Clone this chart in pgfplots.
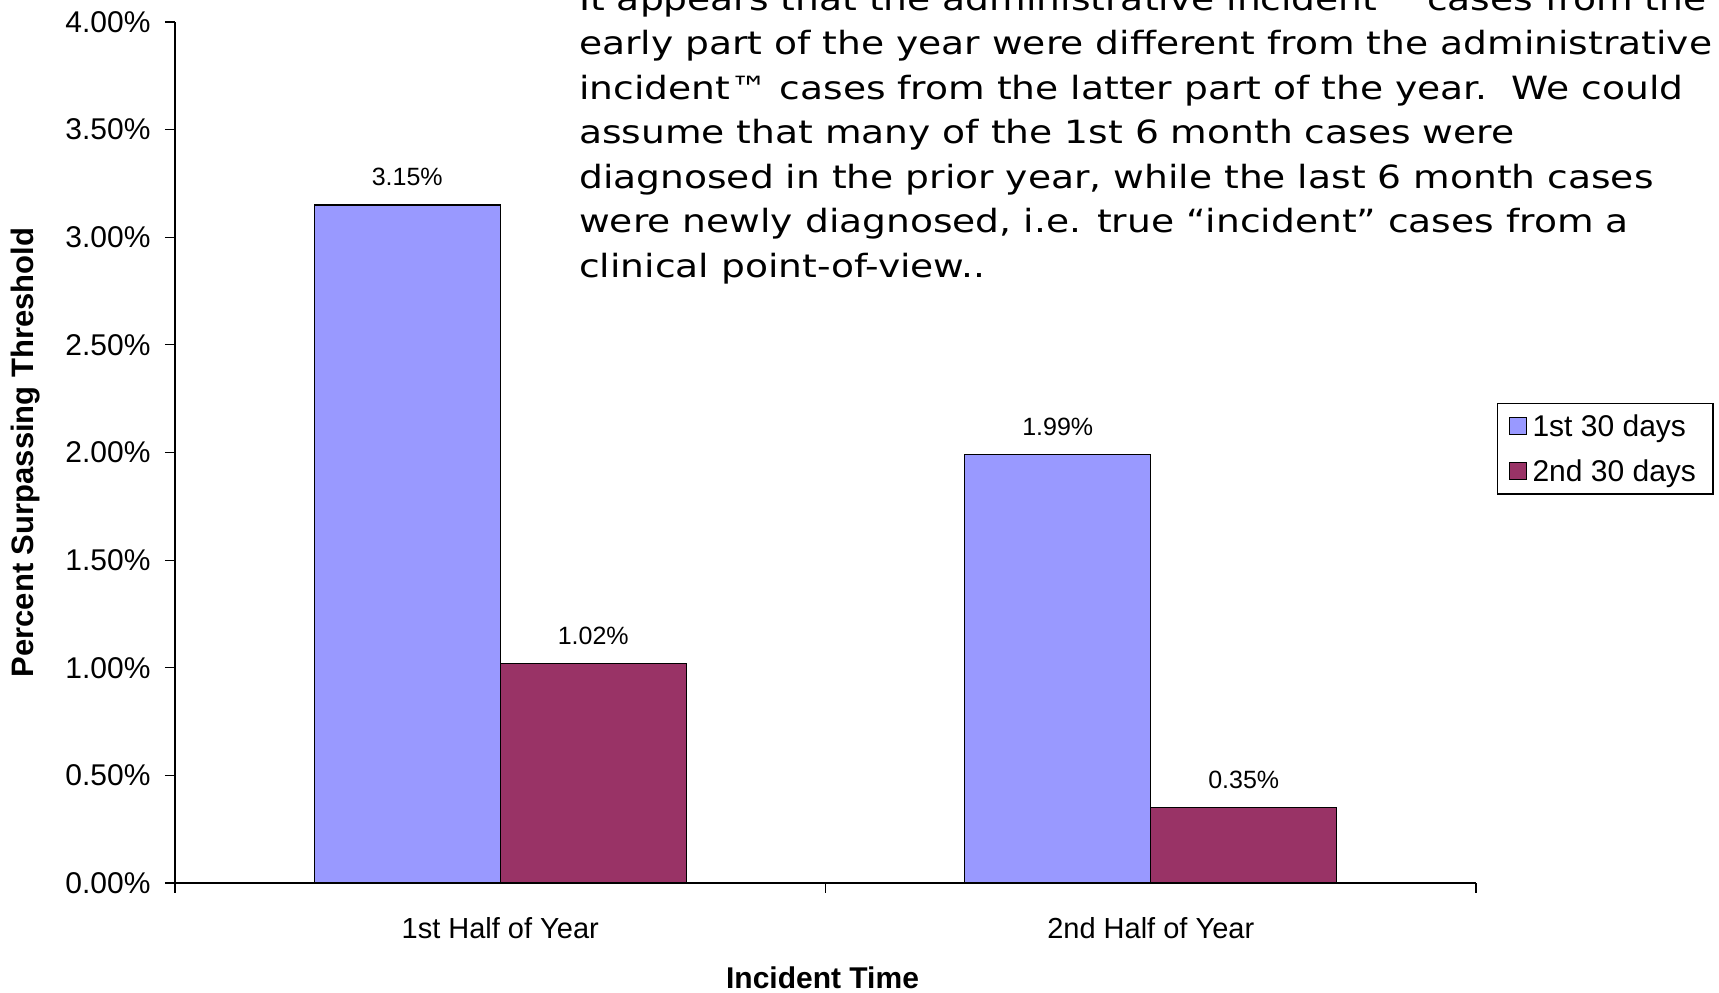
\documentclass[border=0pt]{standalone}
\usepackage{pgfplots}
\pgfplotsset{compat=1.18}
\usepackage{graphicx}
\usepackage{fontspec}
\setmainfont{Liberation Sans}
\newfontfamily\verdana{DejaVu Sans}
\definecolor{barA}{HTML}{9999FF}
\definecolor{barB}{HTML}{993366}
\newcommand\pl[1]{\scalebox{1.175}[1]{\verdana\fontsize{32}{38}\selectfont #1}}
\begin{document}
\begin{tikzpicture}[x=1pt,y=1pt]
\useasboundingbox (0,0) rectangle (1719,993);
\clip (0,0) rectangle (1719,993);
\begin{axis}[
  at={(175pt,110pt)}, anchor=south west,
  scale only axis, width=1301pt, height=861pt,
  xmin=-0.5, xmax=1.5, ymin=0, ymax=4,
  axis x line*=bottom, axis y line*=left,
  axis line style={black, line width=1.3pt, -},
  ybar,
  xtick={0,1}, xticklabels={1st Half of Year, 2nd Half of Year},
  minor xtick={-0.5,0.5,1.5},
  major x tick style={draw=none},
  minor x tick style={black, line width=1.1pt},
  ytick={0,0.5,1,1.5,2,2.5,3,3.5,4},
  major y tick style={black, line width=1.1pt},
  tick align=outside, major tick length=10pt, minor tick length=10pt,
  /pgf/number format/assume math mode=true,
  yticklabel={\pgfmathprintnumber[fixed,fixed zerofill,precision=2]{\tick}\%},
  yticklabel style={font=\fontsize{30}{35}\selectfont, xshift=-11pt},
  xticklabel style={font=\fontsize{29}{34}\selectfont, anchor=base, yshift=-45pt},
  xlabel={Incident Time},
  xlabel style={at={(axis description cs:0.4977,-0.1231)}, anchor=base, font=\bfseries\fontsize{30}{36}\selectfont},
  ylabel={Percent Surpassing Threshold},
  ylabel style={at={(axis description cs:-0.1091,0.5)}, anchor=base, font=\bfseries\fontsize{31}{36}\selectfont},
  nodes near coords={\pgfmathprintnumber[fixed,fixed zerofill,precision=2]{\pgfplotspointmeta}\%},
  every node near coord/.append style={font=\fontsize{25}{29}\selectfont, text=black, yshift=15pt},
  legend style={at={(axis description cs:1.0161,0.5575)}, anchor=north west, draw=black, line width=1.2pt,
    font=\fontsize{30}{35}\selectfont, inner xsep=11pt, inner ysep=9pt, row sep=18pt,
    nodes={inner xsep=6pt, inner ysep=2pt}},
  legend cell align=left,
  legend image code/.code={\draw[#1, line width=1pt] (0pt,-8.5pt) rectangle (17pt,8.5pt);},
]
\addplot[fill=barA, draw=black, line width=1.2pt, bar width=0.286, bar shift=-0.143] coordinates {(0,3.15) (1,1.99)};
\addplot[fill=barB, draw=black, line width=1.2pt, bar width=0.286, bar shift=0.143] coordinates {(0,1.02) (1,0.35)};
\legend{1st 30 days, 2nd 30 days}
\end{axis}
\node[anchor=base west, inner sep=0pt] at (579,982.5) {\pl{It appears that the administrative incident™ cases from the}};
\node[anchor=base west, inner sep=0pt] at (579,938) {\pl{early part of the year were different from the administrative}};
\node[anchor=base west, inner sep=0pt] at (579,893.5) {\pl{incident™ cases from the latter part of the year.\ \ We could}};
\node[anchor=base west, inner sep=0pt] at (579,849) {\pl{assume that many of the 1st 6 month cases were}};
\node[anchor=base west, inner sep=0pt] at (579,804.5) {\pl{diagnosed in the prior year, while the last 6 month cases}};
\node[anchor=base west, inner sep=0pt] at (579,760) {\pl{were newly diagnosed, i.e. true “incident” cases from a}};
\node[anchor=base west, inner sep=0pt] at (579,715.5) {\pl{clinical point-of-view..}};
\end{tikzpicture}
\end{document}
